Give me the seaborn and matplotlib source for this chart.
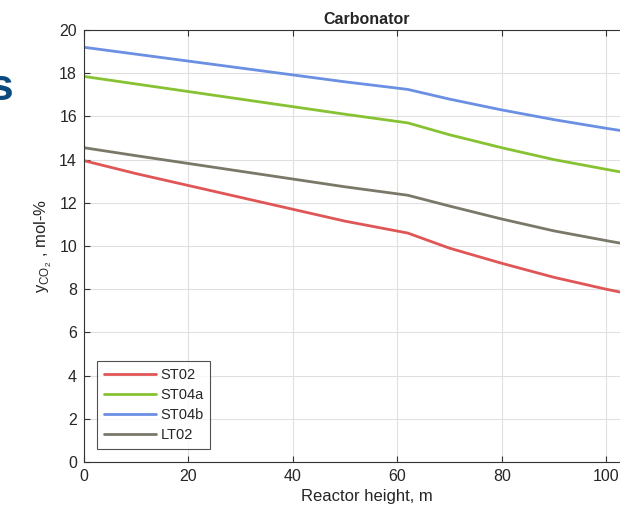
import numpy as np
import pandas as pd
import matplotlib
matplotlib.use("Agg")
import matplotlib.pyplot as plt
import seaborn as sns

# reactor height (m) and CO2 mole fraction (mol-%) per case
height = [0, 10, 20, 30, 40, 50, 62, 70, 80, 90, 100, 108]
st02 = [13.95, 13.35, 12.8, 12.25, 11.7, 11.15, 10.6, 9.9, 9.2, 8.55, 8.0, 7.6]
st04a = [17.85, 17.5, 17.15, 16.8, 16.45, 16.1, 15.7, 15.15, 14.55, 14.0, 13.55, 13.2]
st04b = [19.2, 18.88, 18.56, 18.24, 17.92, 17.6, 17.25, 16.8, 16.3, 15.85, 15.45, 15.15]
lt02 = [14.55, 14.18, 13.82, 13.46, 13.1, 12.74, 12.35, 11.85, 11.25, 10.7, 10.25, 9.9]

cases = ['ST02', 'ST04a', 'ST04b', 'LT02']
colors = ['#e05656', '#86c232', '#6b8fe3', '#7a7868']

df = pd.concat([
    pd.DataFrame({'height': height, 'y': vals, 'case': name})
    for name, vals in zip(cases, [st02, st04a, st04b, lt02])
])

sns.set_style("whitegrid")
plt.rcParams['font.family'] = ['Liberation Sans', 'DejaVu Sans']
plt.rcParams['mathtext.fontset'] = 'custom'
plt.rcParams['mathtext.rm'] = 'Liberation Sans'

fig = plt.figure(figsize=(6.2, 5.14), dpi=100)
ax = fig.add_axes([84 / 620, 52 / 514, 566 / 620, 432 / 514])

sns.lineplot(data=df, x='height', y='y', hue='case', hue_order=cases,
             palette=colors, linewidth=2, ax=ax)

ax.set_xlim(0, 108.4)
ax.set_ylim(0, 20)
ax.set_xticks(np.arange(0, 101, 20))
ax.set_yticks(np.arange(0, 21, 2))
ax.grid(True, color='#e0e0e0', linewidth=0.8)
for s in ax.spines.values():
    s.set_color('#333333')
    s.set_linewidth(0.8)
ax.tick_params(direction='in', length=4, width=0.8, color='#333333',
               labelsize=11.5, labelcolor='#262626', top=True, right=True,
               bottom=True, left=True, pad=5)

ax.set_title('Carbonator', fontsize=11.5, fontweight='bold', pad=4)
ax.set_xlabel('Reactor height, m', fontsize=12, color='#262626')
ax.set_ylabel(r'y$_{\mathrm{CO}_{2}}$ , mol-%', fontsize=12, color='#262626')

leg = ax.legend(loc='lower left', fontsize=10.5, frameon=True, fancybox=False,
                handlelength=3.6, handletextpad=0.3, borderaxespad=0.9,
                labelspacing=0.42, borderpad=0.45)
leg.get_frame().set_edgecolor('#262626')
leg.get_frame().set_linewidth(0.8)

# fragment of the slide title peeking in on the left
fig.text(13 / 620, 1 - 88 / 514, 's', color='#0b4a7e', fontsize=32,
         fontweight='bold', ha='right', va='center')

fig.savefig('out.png', dpi=100)
